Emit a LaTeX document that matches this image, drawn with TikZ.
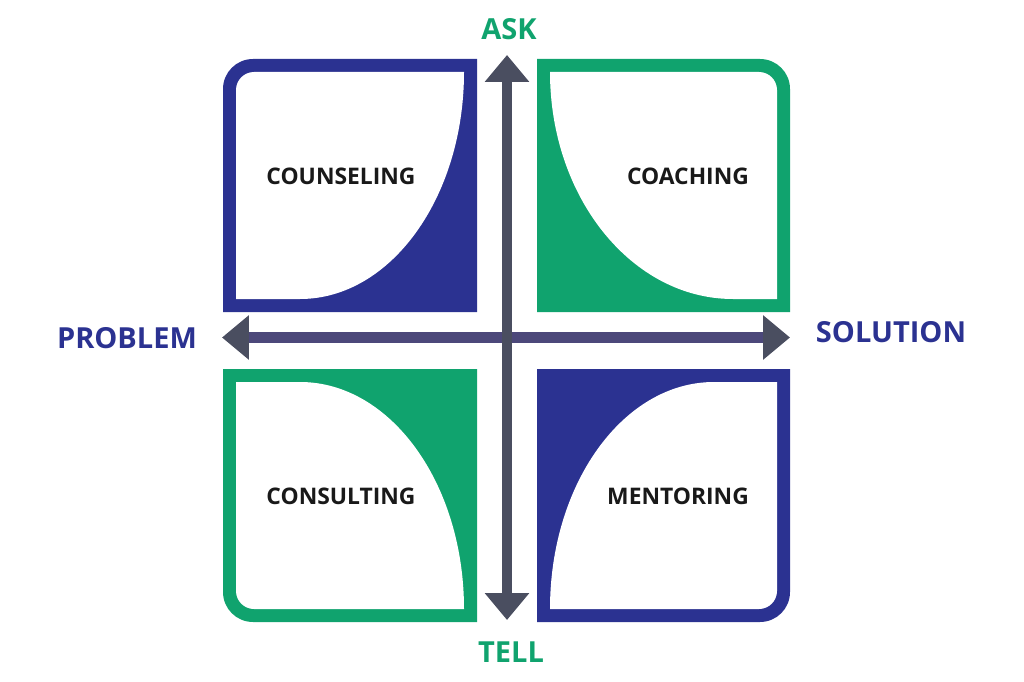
\documentclass[tikz,border=0pt]{standalone}
\usepackage{fontspec}
\setmainfont{Open Sans}
\usepackage{tikz}
\usetikzlibrary{arrows.meta}

\definecolor{quadblue}{RGB}{43,50,145}
\definecolor{quadgreen}{RGB}{16,163,110}
\definecolor{axisgray}{RGB}{74,78,96}
\definecolor{axisviolet}{RGB}{76,72,122}

\tikzset{
  boxlabel/.style={font=\fontsize{13}{15}\selectfont\bfseries, text=black!90},
  axislabel/.style={font=\fontsize{16.5}{19}\selectfont\bfseries},
  axisline/.style={line width=0.21cm, {Triangle[length=0.54cm,width=0.86cm,color=axisgray]}-{Triangle[length=0.54cm,width=0.86cm,color=axisgray]}}
}

\begin{document}
\begin{tikzpicture}[x=0.02cm, y=-0.02cm]
    \useasboundingbox (0,0) rectangle (1024,682);

    % top left: counseling
    \fill[quadblue] (223,312) -- (223,89) .. controls (223,72.4) and (236.4,59) .. (253,59) -- (477,59) -- (477,312) -- cycle;
    \fill[white] (236,299) -- (236,90) .. controls (236,80.1) and (244.1,72) .. (254,72) -- (464,72) .. controls (464,197.4) and (390.6,299) .. (300,299) -- cycle;

    % top right: coaching
    \fill[quadgreen] (537,312) -- (537,59) -- (760,59) .. controls (776.6,59) and (790,72.4) .. (790,89) -- (790,312) -- cycle;
    \fill[white] (550,72) -- (759,72) .. controls (768.9,72) and (777,80.1) .. (777,90) -- (777,299) -- (733,299) .. controls (631.9,299) and (550,197.4) .. (550,72) -- cycle;

    % bottom left: consulting
    \fill[quadgreen] (223,369) -- (477,369) -- (477,622) -- (253,622) .. controls (236.4,622) and (223,608.6) .. (223,592) -- cycle;
    \fill[white] (236,382) -- (300,382) .. controls (390.6,382) and (464,483.6) .. (464,609) -- (254,609) .. controls (244.1,609) and (236,600.9) .. (236,591) -- cycle;

    % bottom right: mentoring
    \fill[quadblue] (537,369) -- (790,369) -- (790,592) .. controls (790,608.6) and (776.6,622) .. (760,622) -- (537,622) -- cycle;
    \fill[white] (714,382) -- (777,382) -- (777,591) .. controls (777,600.9) and (768.9,609) .. (759,609) -- (550,609) .. controls (550,483.6) and (623.4,382) .. (714,382) -- cycle;

    % axes
    \coordinate (problemtip) at (222,337.5);
    \coordinate (solutiontip) at (790,337.5);
    \coordinate (asktip) at (507,55);
    \coordinate (telltip) at (507,620);
    \draw[axisline, axisviolet] (problemtip) -- (solutiontip);
    \draw[axisline, axisgray] (telltip) -- (asktip);

    \node[axislabel, text=quadgreen] (ask) at (509,29) {ASK};
    \node[axislabel, text=quadgreen] (tell) at (511,652) {TELL};
    \node[axislabel, text=quadblue] (problem) at (127,338.5) {PROBLEM};
    \node[axislabel, text=quadblue] (solution) at (891,332) {SOLUTION};

    \node[boxlabel] (counseling) at (341,176) {COUNSELING};
    \node[boxlabel] (coaching) at (688,176) {COACHING};
    \node[boxlabel] (consulting) at (341,496) {CONSULTING};
    \node[boxlabel] (mentoring) at (678,496) {MENTORING};
\end{tikzpicture}
\end{document}
